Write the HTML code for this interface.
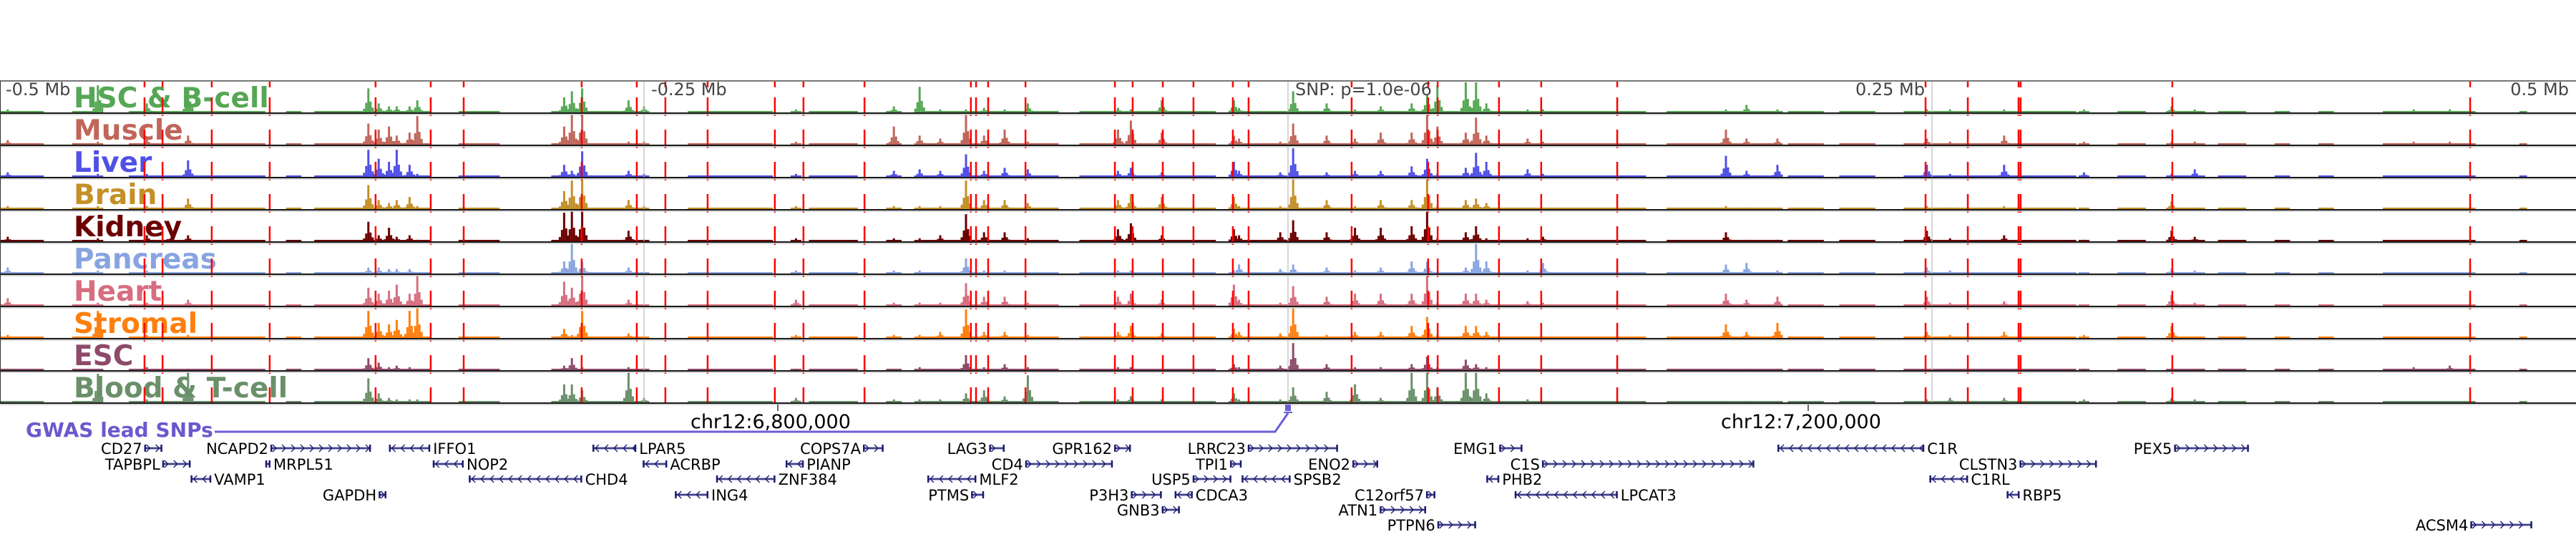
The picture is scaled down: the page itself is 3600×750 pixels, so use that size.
<!DOCTYPE html>
<html><head><meta charset="utf-8"><style>
html,body{margin:0;padding:0;background:#fff;}
svg{display:block;}
</style></head><body>
<svg id="chart" xmlns="http://www.w3.org/2000/svg" width="3600" height="750" viewBox="0 0 3600 750">
<rect x="0" y="0" width="3600" height="750" fill="#fff"/>
<g id="tracks"></g>
<g id="overlay"></g>
<g id="genes"></g>
</svg>
<script>
// ---------- data ----------
const tissues = ["HSC & B-cell","Muscle","Liver","Brain","Kidney","Pancreas","Heart","Stromal","ESC","Blood & T-cell"];
const tissueColors = ["#55a755","#c0665a","#5050e6","#c49028","#6b0000","#88a4e0","#d66e80","#ff7f0e","#8e4a6a","#6a906a"];
const peakKb = [-497,-462,-443,-427,-357,-353,-349,-346,-341,-338,-281,-278,-274,-256,-250,-191,-153,-143,-135,-125,-118,-110,-101,-66,-61,-49,-21,-19,-3,2,15,26,36,48,54,58,69,73,77,93,99,170,178,190,248,257,278,309,343,352,437,451];
const hHSC     = [.1,.9,.3,.8,.8,.3,.2,.2,.2,.4,.5,.7,.8,.4,.2,.1,.2,.85,.1,.1,.15,.1,.3,.15,.1,.4,.4,.15,.05,.7,.3,.1,.2,.3,.6,.9,1,1,.3,.1,.1,.1,.25,.1,.1,.1,.1,.1,.2,.1,.1,.1];
const hMuscle  = [.15,.1,.2,.3,.7,.5,.6,.3,.4,.95,.6,1,1,.1,.1,.1,.6,.3,.2,1,.3,.5,.1,.5,.8,.4,.3,.2,.1,.7,.3,.2,.4,.4,1,.6,.4,.9,.3,.2,.1,.5,.2,.2,.2,.1,.3,.1,.1,.1,.1,.1];
const hLiver   = [.15,.1,.1,.55,.9,.6,.5,.9,.4,.1,.4,.2,.85,.2,.1,.1,.2,.25,.2,.75,.2,.3,.25,.2,.3,.15,.5,.2,.15,.95,.15,.2,.2,.35,.6,.1,.3,.8,.5,.25,.1,.7,.2,.4,.4,.1,.4,.15,.1,.25,.05,.05];
const hBrain   = [.1,.1,.1,.35,.8,.3,.2,.3,.4,.1,.6,.95,1,.3,.1,.1,.1,.1,.1,.95,.3,.3,.2,.3,.5,.4,.4,.1,.1,1,.3,.1,.3,.3,1,.1,.3,.35,.2,.05,.05,.1,.05,.05,.1,.05,.1,.05,.25,.05,.02,.02];
const hKidney  = [.15,.1,.2,.2,.65,.2,.45,.15,.2,.05,.95,1,1,.35,.05,.1,.1,.1,.2,.9,.3,.3,.1,.4,.6,.2,.4,.2,.3,.7,.3,.45,.45,.5,1,.1,.3,.5,.1,.1,.15,.3,.05,.05,.35,.1,.2,.05,.35,.15,.02,.02];
const hPancreas= [.2,.1,.1,.05,.2,.2,.15,.15,.15,.05,.4,1,.4,.2,.05,.1,.1,.1,.05,.5,.1,.1,.05,.1,.1,.05,.1,.3,.15,.3,.2,.1,.2,.4,.4,.05,.2,1,.4,.1,.35,.3,.35,.1,.2,.1,.05,.05,.15,.1,.02,.02];
const hHeart   = [.25,.1,.1,.2,.6,.4,.5,.7,.4,1,.8,.6,1,.2,.05,.2,.1,.1,.1,.75,.3,.3,.1,.3,.4,.2,.7,.2,.1,.65,.3,.4,.4,.4,1,.1,.4,.4,.2,.15,.1,.4,.2,.3,.3,.1,.15,.05,.35,.1,.02,.02];
const hStromal = [.1,.9,.1,.1,.9,.5,.45,.6,.9,1,.3,.1,.9,.15,.05,.1,.1,.1,.2,.95,.2,.2,.1,.2,.4,.15,.3,.2,.15,1,.1,.2,.2,.4,.7,.1,.4,.4,.2,.05,.05,.45,.2,.5,.2,.1,.2,.1,.4,.05,.02,.02];
const hESC     = [.05,.05,.1,.05,.4,.25,.1,.15,.1,.05,.15,.4,.1,.1,.05,.05,.05,.1,.05,.5,.1,.2,.1,.1,.1,.05,.2,.1,.15,.9,.2,.1,.1,.2,.45,.1,.35,.2,.1,.05,.05,.05,.05,.05,.05,.05,.05,.05,.05,.05,.1,.15];
const hBlood   = [.05,.95,.1,1,.8,.3,.15,.1,.1,.1,.6,.6,.4,1,.15,.15,.1,.1,.1,.3,.4,.2,.9,.1,.2,.1,.3,.1,.1,.5,.35,.6,.15,1,1,.5,1,1,.3,.1,.05,.05,.05,.05,.1,.15,.15,.1,.15,.1,.02,.02];
const noiseStartKb = [-500,-472,-450,-389,-378,-322,-286,-233,-186,-156,-142,-81,-17,147,194,214,239,322,344,361,383,400,425,478];
const noiseEndKb   = [-483,-464,-397,-383,-333,-306,-250,-200,-167,-150,-89,-28,139,189,208,228,306,333,356,372,389,406,461,481];
const snpLinesKb = [-443.9,-436.9,-417.8,-395.3,-354.2,-332.8,-320,-274.2,-252.8,-241.7,-225.3,-199.2,-188.1,-164.4,-123.1,-121.1,-116.4,-101.9,-67.2,-60.3,-48.6,-36.7,-21.4,-15.3,24.7,54.4,58.1,81.9,98.3,127.8,247.5,263.9,283.6,284.4,343.3,458.9];
const axisKb = [-500,-250,0,250,500];
const axisLabels = ["-0.5 Mb","-0.25 Mb","SNP: p=1.0e-06","0.25 Mb","0.5 Mb"];
const chrTicksKb = [-198.06,201.94];
const chrTickLabels = ["chr12:6,800,000","chr12:7,200,000"];
const geneNames  = ["CD27","NCAPD2","IFFO1","LPAR5","COPS7A","LAG3","GPR162","LRRC23","EMG1","C1R","PEX5",
 "TAPBPL","MRPL51","NOP2","ACRBP","PIANP","CD4","TPI1","ENO2","C1S","CLSTN3",
 "VAMP1","CHD4","ZNF384","MLF2","USP5","SPSB2","PHB2","C1RL",
 "GAPDH","ING4","PTMS","P3H3","CDCA3","C12orf57","LPCAT3","RBP5",
 "GNB3","ATN1","PTPN6","ACSM4"];
const geneStartKb = [-444,-395,-349,-270,-165,-116,-67.5,-15.6,82,190,344,
 -437,-397,-332,-250.5,-195,-102,-22.5,25,98.6,284,
 -426,-318,-222,-140,-37,-18,77,249,
 -353,-238,-123,-61,-44,53.6,88,279,
 -49,35.6,58,459];
const geneEndKb = [-437,-356,-333,-253,-157,-110,-61,19.4,91,247,373,
 -426,-395,-320,-241,-188,-68,-18,35,181,314,
 -418,-274,-199,-121,-22,1,82,264,
 -350,-225,-118,-49,-37,57.2,128,284,
 -42,53.6,73,483];
const geneStrand = [1,1,-1,-1,1,1,1,1,1,-1,1, 1,-1,-1,-1,-1,1,1,1,1,1, -1,-1,-1,-1,1,-1,-1,-1, 1,-1,1,1,-1,1,-1,-1, 1,1,1,1];
const geneRow = [0,0,0,0,0,0,0,0,0,0,0, 1,1,1,1,1,1,1,1,1,1, 2,2,2,2,2,2,2,2, 3,3,3,3,3,3,3,3, 4,4,5,5];

// ---------- layout ----------
const NS="http://www.w3.org/2000/svg";
const X0=1800, PXKB=3.6;
function xs(kb){return X0+kb*PXKB;}
const TOP=113, TH=45, MAXH=42;
const heights=[hHSC,hMuscle,hLiver,hBrain,hKidney,hPancreas,hHeart,hStromal,hESC,hBlood];
function mk(tag,attrs,parent){const e=document.createElementNS(NS,tag);for(const k in attrs)e.setAttribute(k,attrs[k]);parent.appendChild(e);return e;}
const gT=document.getElementById('tracks'), gO=document.getElementById('overlay'), gG=document.getElementById('genes');

const offs=[-6,-3,0,3,6], mult=[.15,.4,1,.45,.2];
for(let t=0;t<tissues.length;t++){
  const bot=TOP+(t+1)*TH-1;
  const g=mk('g',{},gT);
  
  
  for(let i=0;i<noiseStartKb.length;i++){
    const r=mk('rect',{x:xs(noiseStartKb[i]),y:bot-2,width:xs(noiseEndKb[i])-xs(noiseStartKb[i]),height:2,fill:tissueColors[t]},g);
    
    
  }
  const hs=heights[t];
  for(let i=0;i<peakKb.length;i++){
    for(let j=0;j<offs.length;j++){
      const h=Math.max(2,hs[i]*mult[j]*MAXH);
      const r=mk('rect',{x:xs(peakKb[i])+offs[j]-1.5,y:bot-h,width:3,height:h,fill:tissueColors[t]},g);
      
      
    }
  }
  const lab=mk('text',{x:103,y:bot-7,fill:tissueColors[t],'font-family':'"DejaVu Sans", sans-serif','font-weight':'bold','font-size':'39'},g);
  lab.textContent=tissues[t];
  
  
}
// reference grey lines
for(const kb of [-250,0,250]){
  const l=mk('line',{x1:xs(kb),x2:xs(kb),y1:TOP,y2:TOP+10*TH,stroke:'#bbb','stroke-width':1.2},gO);
  
  
}
// snp red dashed lines
for(const kb of snpLinesKb){
  const g=mk('g',{},gO);
  
  
  mk('rect',{x:xs(kb)-1.25,y:TOP,width:2.5,height:9,fill:'#ff0000'},g);
  for(let t=0;t<10;t++){
    const b=TOP+(t+1)*TH;
    mk('rect',{x:xs(kb)-1.25,y:b-22,width:2.5,height:t<9?26:22,fill:'#ff0000'},g);
  }
}
// track borders
const tb=mk('line',{x1:0,x2:3600,y1:TOP,y2:TOP,stroke:'#777','stroke-width':2},gO);


for(let t=1;t<=10;t++){
  const l=mk('line',{x1:0,x2:3600,y1:TOP+t*TH,y2:TOP+t*TH,stroke:'#1a1a1a','stroke-width':2},gO);
  
  
  const l2=mk('line',{x1:0,x2:3600,y1:TOP+t*TH+2,y2:TOP+t*TH+2,stroke:'#ccc','stroke-width':1.5},gO);
  
  
}
const lb=mk('line',{x1:0.5,x2:0.5,y1:TOP,y2:TOP+10*TH,stroke:'#333','stroke-width':1},gO);


// axis labels
for(let i=0;i<axisKb.length;i++){
  let x=xs(axisKb[i]), anchor='start';
  if(i===0)x=8; else if(i===1||i===2)x+=10; else {x-=10;anchor='end';}
  const tx=mk('text',{x:x,y:133,fill:'#444','font-family':'"DejaVu Sans", sans-serif','font-size':'24','text-anchor':anchor},gO);
  tx.textContent=axisLabels[i];
  
  
}
// chr ticks
for(let i=0;i<chrTicksKb.length;i++){
  const x=xs(chrTicksKb[i]);
  const l=mk('line',{x1:x,x2:x,y1:565,y2:574,stroke:'#333','stroke-width':1.5},gO);
  
  
  const tx=mk('text',{x:x-122,y:598,fill:'#000','font-family':'"DejaVu Sans", sans-serif','font-size':'27'},gO);
  tx.textContent=chrTickLabels[i];
  
  
}
// GWAS
const gw=mk('text',{x:36,y:610,fill:'#6a5acd','font-family':'"DejaVu Sans", sans-serif','font-weight':'bold','font-size':'28'},gO);
gw.textContent='GWAS lead SNPs';


const gp=mk('polyline',{points:'300,603 1782,603 1800,577',fill:'none',stroke:'#6a5fd6','stroke-width':3},gO);


const sb=mk('rect',{x:1796,y:565,width:8,height:9,fill:'#6a5fd6'},gO);


mk('rect',{x:1794,y:575,width:12,height:2,fill:'#6a5fd6'},gO);

// genes
const rowY=[626,648,669,691,712,733];
for(let i=0;i<geneNames.length;i++){
  const x1=xs(geneStartKb[i]), x2=xs(geneEndKb[i]), y=rowY[geneRow[i]], s=geneStrand[i];
  const g=mk('g',{},gG);
  
  
  mk('line',{x1:x1,x2:x2,y1:y,y2:y,stroke:'#6a6aa8','stroke-width':3},g);
  mk('line',{x1:x1,x2:x2,y1:y,y2:y,stroke:'#1c1c70','stroke-width':1},g);
  for(let cx=x1+6;cx<x2-3;cx+=13){
    const d=s>0?`M${cx-3},${y-5} L${cx+2},${y} L${cx-3},${y+5}`:`M${cx+3},${y-5} L${cx-2},${y} L${cx+3},${y+5}`;
    mk('path',{d:d,fill:'none',stroke:'#1c1c70','stroke-width':1.3},g);
  }
  mk('rect',{x:x1,y:y-5,width:2.5,height:10,fill:'#1c1c70'},g);
  mk('rect',{x:x2-2.5,y:y-5,width:2.5,height:10,fill:'#1c1c70'},g);
  const tx=mk('text',{y:y+8,fill:'#000','font-family':'"DejaVu Sans", sans-serif','font-size':'21'},g);
  if(s>0){tx.setAttribute('x',x1-3);tx.setAttribute('text-anchor','end');}
  else{tx.setAttribute('x',x2+4);}
  tx.textContent=geneNames[i];
  
  
}
</script>
</body></html>
